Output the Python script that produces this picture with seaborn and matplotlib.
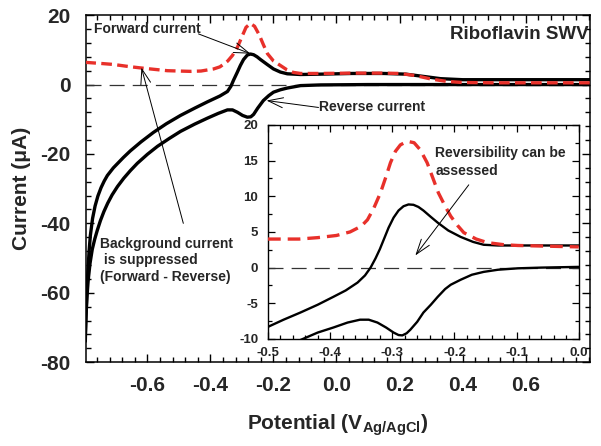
import matplotlib
matplotlib.use("Agg")
import matplotlib.pyplot as plt
import seaborn as sns
from matplotlib.ticker import MultipleLocator, AutoMinorLocator

# main panel: forward, reverse and net (forward - reverse) SWV currents
main_fwd_x = [-0.797, -0.795, -0.792, -0.789, -0.785, -0.781, -0.774, -0.766, -0.757, -0.747,
              -0.737, -0.727, -0.708, -0.676, -0.654, -0.62, -0.581, -0.54, -0.495, -0.45,
              -0.41, -0.37, -0.346, -0.335, -0.327, -0.315, -0.305, -0.295, -0.283, -0.273,
              -0.263, -0.252, -0.241, -0.22, -0.2, -0.178, -0.156, -0.114, -0.05, 0.05,
              0.15, 0.22, 0.28, 0.33, 0.4, 0.5, 0.65, 0.805]
main_fwd_y = [-74, -67, -60, -54, -48, -43.5, -38.6, -35, -32.1, -29.7,
              -27.8, -26.2, -24.0, -21.0, -19.1, -16.5, -13.8, -11.3, -8.9, -6.8,
              -5.0, -3.3, -2.0, -0.5, 1.2, 3.5, 5.5, 7.2, 8.5, 8.8,
              8.6, 8.0, 7.2, 5.8, 4.5, 3.6, 3.1, 2.9, 3.0, 3.2,
              3.2, 3.0, 2.3, 1.7, 1.4, 1.4, 1.4, 1.4]

main_rev_x = [-0.797, -0.795, -0.792, -0.788, -0.782, -0.775, -0.767, -0.759, -0.749, -0.738,
              -0.726, -0.712, -0.695, -0.675, -0.654, -0.632, -0.6, -0.568, -0.53, -0.495,
              -0.45, -0.41, -0.375, -0.346, -0.33, -0.314, -0.298, -0.283, -0.272, -0.263,
              -0.25, -0.232, -0.215, -0.2, -0.178, -0.156, -0.114, -0.05, 0.1, 0.3, 0.5, 0.805]
main_rev_y = [-72, -67, -61.5, -56.5, -51.5, -47.5, -44.5, -42, -39.2, -36.6,
              -34.2, -31.8, -29.4, -27, -24.8, -22.7, -20.1, -17.8, -15.5, -13.5,
              -11.4, -9.7, -8.3, -7.3, -7.3, -8, -8.9, -9.4, -9.3, -8.6,
              -6.8, -4.6, -3.2, -2.2, -1.5, -1, -0.3, -0.1, 0, 0, 0, 0]

main_net_x = [-0.797, -0.75, -0.708, -0.66, -0.622, -0.58, -0.537, -0.5, -0.463, -0.43,
              -0.39, -0.37, -0.359, -0.345, -0.33, -0.314, -0.3, -0.287, -0.273, -0.26,
              -0.245, -0.232, -0.219, -0.2, -0.178, -0.158, -0.137, -0.114, -0.05, 0.05,
              0.15, 0.2, 0.25, 0.3, 0.35, 0.4, 0.5, 0.65, 0.805]
main_net_y = [6.4, 6.1, 5.8, 5.2, 4.8, 4.4, 4.0, 3.9, 3.8, 3.9,
              4.5, 5.1, 5.8, 6.8, 8.4, 10.8, 13.8, 16.5, 17.6, 16.8,
              14.3, 11.5, 8.9, 6.8, 5.5, 4.3, 3.5, 3.2, 3.2, 3.3,
              3.3, 3.2, 2.6, 1.6, 0.9, 0.6, 0.5, 0.5, 0.5]

# inset: zoom on -0.5 .. 0.0 V
in_net_x = [-0.5, -0.45, -0.42, -0.39, -0.368, -0.35, -0.34, -0.33, -0.319, -0.31,
            -0.303, -0.295, -0.287, -0.276, -0.265, -0.255, -0.244, -0.235, -0.226, -0.215,
            -0.206, -0.195, -0.185, -0.165, -0.147, -0.12, -0.098, -0.05, 0.0]
in_net_y = [4.0, 4.0, 4.2, 4.5, 5.0, 5.8, 6.7, 8.3, 10.5, 12.8,
            14.7, 16.3, 17.2, 17.7, 17.5, 16.5, 14.7, 12.6, 10.5, 8.6,
            7.2, 5.9, 4.9, 4.0, 3.5, 3.2, 3.1, 3.0, 2.9]

in_fwd_x = [-0.5, -0.475, -0.448, -0.42, -0.395, -0.375, -0.356, -0.344, -0.335, -0.327,
            -0.32, -0.313, -0.306, -0.298, -0.29, -0.282, -0.274, -0.266, -0.258, -0.25,
            -0.238, -0.227, -0.21, -0.19, -0.17, -0.153, -0.13, -0.098, -0.05, 0.0]
in_fwd_y = [-8.3, -7.3, -6.3, -5.2, -4.1, -3.2, -2.1, -1.1, 0.0, 1.3,
            2.6, 4.1, 5.6, 7.0, 8.0, 8.6, 8.85, 8.8, 8.5, 8.0,
            7.1, 6.3, 5.2, 4.3, 3.6, 3.2, 3.1, 3.1, 3.1, 3.1]

in_rev_x = [-0.47, -0.444, -0.42, -0.395, -0.372, -0.352, -0.338, -0.324, -0.31, -0.298,
            -0.29, -0.284, -0.277, -0.271, -0.26, -0.25, -0.238, -0.227, -0.215, -0.206,
            -0.19, -0.172, -0.153, -0.13, -0.098, -0.06, 0.0]
in_rev_y = [-11.0, -10.0, -9.1, -8.4, -7.7, -7.3, -7.3, -7.7, -8.4, -9.1,
            -9.45, -9.5, -9.2, -8.7, -7.6, -6.3, -5.2, -4.1, -3.0, -2.4,
            -1.7, -1.0, -0.6, -0.3, -0.1, 0.0, 0.1]

zero_level = 0.0
main_xticks = [-0.6, -0.4, -0.2, 0.0, 0.2, 0.4, 0.6]
main_yticks = [-80, -60, -40, -20, 0, 20]
inset_xticks = [-0.5, -0.4, -0.3, -0.2, -0.1, 0.0]
inset_yticks = [-10, -5, 0, 5, 10, 15, 20]

sns.set_theme(style="ticks")
plt.rcParams["font.family"] = ["Liberation Sans", "DejaVu Sans"]
plt.rcParams["font.weight"] = "bold"
plt.rcParams["axes.labelweight"] = "bold"
plt.rcParams["axes.unicode_minus"] = False
plt.rcParams["mathtext.fontset"] = "custom"
plt.rcParams["mathtext.rm"] = "Liberation Sans:bold"
plt.rcParams["mathtext.bf"] = "Liberation Sans:bold"

RED = "#e8302a"

fig = plt.figure(figsize=(6.01, 4.46), dpi=100)
ax = fig.add_axes([0.143, 0.188, 0.839, 0.778])

ax.axhline(zero_level, color="#333333", lw=0.9, ls=(0, (12, 6.5)), zorder=1)
sns.lineplot(x=main_net_x, y=main_net_y, sort=False, estimator=None, ax=ax,
             color=RED, lw=2.4, ls=(0, (3.2, 1.6)), zorder=3)
sns.lineplot(x=main_fwd_x, y=main_fwd_y, sort=False, estimator=None, ax=ax,
             color="black", lw=2.4, zorder=2)
sns.lineplot(x=main_rev_x, y=main_rev_y, sort=False, estimator=None, ax=ax,
             color="black", lw=2.4, zorder=2)

ax.set_xlim(-0.795, 0.805)
ax.set_ylim(-80, 20)
ax.set_xticks(main_xticks)
ax.set_xticklabels([f"{t:.1f}" for t in main_xticks])
ax.set_yticks(main_yticks)
ax.xaxis.set_minor_locator(MultipleLocator(0.04))
ax.yaxis.set_minor_locator(MultipleLocator(4))
ax.tick_params(which="both", direction="in", top=True, right=True, width=1, color="black")
ax.tick_params(which="major", length=6)
ax.tick_params(which="minor", length=3.5)
ax.tick_params(axis="x", which="major", labelsize=15, pad=10)
ax.tick_params(axis="y", which="major", labelsize=15, pad=11)
for sp in ax.spines.values():
    sp.set_linewidth(1.1)
    sp.set_color("black")

ax.set_xlabel(r"Potential (V$_{\mathbf{Ag/AgCl}}$)", fontsize=15)
ax.set_ylabel("Current (\u03bcA)", fontsize=15)
ax.xaxis.set_label_coords(0.5, -0.145)
ax.yaxis.set_label_coords(-0.108, 0.5)

# annotations on main panel
arrow = dict(arrowstyle="->,head_length=0.9,head_width=0.3", color="black", lw=0.7,
             shrinkA=0, shrinkB=0)
ax.text(-0.771, 15.9, "Forward current", fontsize=10, va="center", ha="left")
ax.annotate("", xy=(-0.273, 8.9), xytext=(-0.438, 14.6), arrowprops=arrow)
ax.text(-0.057, -6.6, "Reverse current", fontsize=10, va="center", ha="left")
ax.annotate("", xy=(-0.222, -4.6), xytext=(-0.057, -6.6), arrowprops=arrow)
ax.text(0.8, 14.4, "Riboflavin SWV", fontsize=13.5, va="center", ha="right")
ax.text(-0.749, -50.7, "Background current\n is suppressed\n(Forward - Reverse)",
        fontsize=10, va="center", ha="left", linespacing=1.2)
ax.annotate("", xy=(-0.619, 4.9), xytext=(-0.486, -40), arrowprops=arrow)

# inset
ins = fig.add_axes([0.446, 0.240, 0.517, 0.480])
ins.set_facecolor("white")
ins.axhline(zero_level, color="#333333", lw=0.9, ls=(0, (12, 6.5)), zorder=1)
sns.lineplot(x=in_net_x, y=in_net_y, sort=False, estimator=None, ax=ins,
             color=RED, lw=2.4, ls=(0, (3.8, 2.1)), zorder=3)
sns.lineplot(x=in_fwd_x, y=in_fwd_y, sort=False, estimator=None, ax=ins,
             color="black", lw=1.7, zorder=2)
sns.lineplot(x=in_rev_x, y=in_rev_y, sort=False, estimator=None, ax=ins,
             color="black", lw=1.7, zorder=2)
ins.set_xlim(-0.5, 0.0)
ins.set_ylim(-10, 20)
ins.set_xticks(inset_xticks)
ins.set_xticklabels([f"{t:.1f}" for t in inset_xticks])
ins.set_yticks(inset_yticks)
ins.xaxis.set_minor_locator(MultipleLocator(0.02))
ins.yaxis.set_minor_locator(AutoMinorLocator(2))
ins.tick_params(which="both", direction="in", top=True, right=True, width=0.9, color="black")
ins.tick_params(which="major", length=5)
ins.tick_params(which="minor", length=3)
ins.tick_params(axis="x", which="major", labelsize=9.5, pad=6)
ins.tick_params(axis="y", which="major", labelsize=9.5, pad=7)
for sp in ins.spines.values():
    sp.set_linewidth(1.0)
    sp.set_color("black")
ins.set_xlabel("")
ins.set_ylabel("")

ins.text(-0.231, 14.8, "Reversibility can be\nassessed", fontsize=10,
         va="center", ha="left", linespacing=1.35)
ins.annotate("", xy=(-0.263, 1.7), xytext=(-0.177, 11.6), arrowprops=arrow)

fig.savefig("out.png", dpi=100)
